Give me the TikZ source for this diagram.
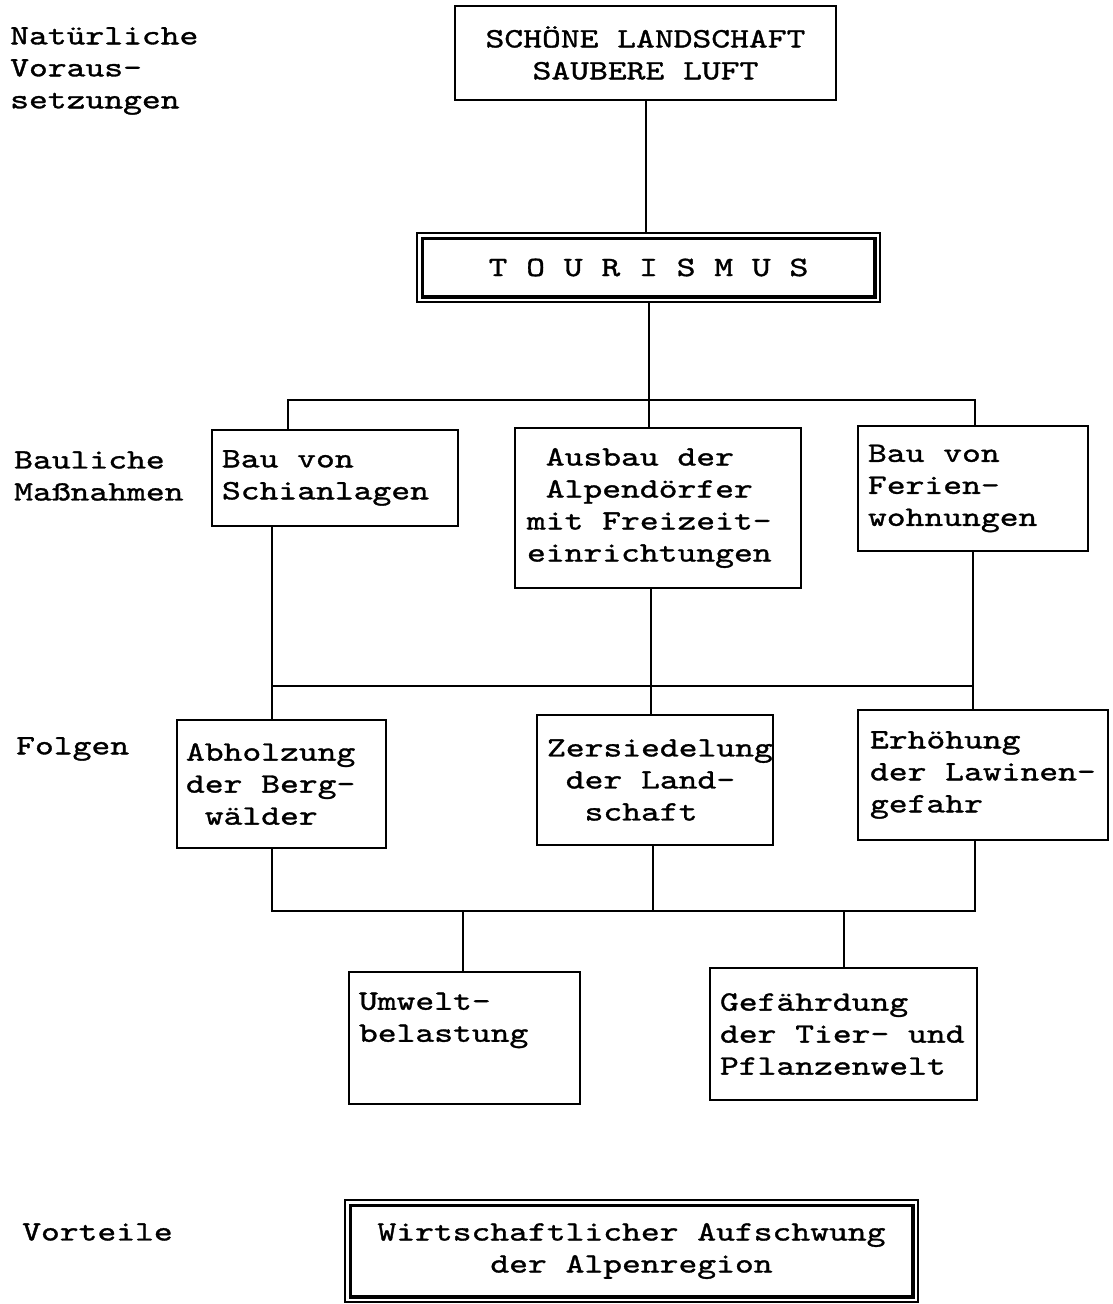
\documentclass[tikz,border=0pt]{standalone}
\usepackage{fontspec}
\setmonofont{lmmono10-regular.otf}[FakeStretch=1.28, FakeBold=1.2]
\usepackage{tikz}
\usetikzlibrary{positioning}
\newcommand{\sgap}{\hphantom{x}}
\newcommand{\diafont}{\ttfamily\fontsize{28}{32}\selectfont}

\begin{document}
\begin{tikzpicture}[
    x=1pt, y=-1pt,
    every node/.style={font=\diafont, execute at begin node={\spaceskip 18.8pt\relax}},
    box/.style={draw, line width=1.8pt, inner xsep=10pt, inner ysep=0pt, align=left},
    cbox/.style={box, align=center},
    dbox/.style={draw, line width=1.5pt, inner xsep=10pt, inner ysep=0pt, align=center},
    lab/.style={anchor=west, align=left, inner sep=0pt},
    conn/.style={draw, line width=2pt},
]
\useasboundingbox (0,0) rectangle (1113,1304);

% row labels
\node[lab] (lnat) at (10,71)   {Natürliche\\Voraus-\\setzungen};
\node[lab] (lbau) at (14,476)  {Bauliche\\Maßnahmen};
\node[lab] (lfol) at (16,749)  {Folgen};
\node[lab] (lvor) at (22,1232) {Vorteile};

% boxes
\node[cbox, text width=361pt, minimum height=94pt]  (nat)  at (645.5,53)   {SCHÖNE LANDSCHAFT\\SAUBERE LUFT};
\node[dbox, text width=443pt, minimum height=69pt]  (tour) at (648.5,267.5) {T O U R I S M U S};
\node[box, text width=226pt, minimum height=96pt]   (schi) at (335,478)     {Bau von\\Schianlagen};
\node[box, inner xsep=12pt, text width=262pt, minimum height=160pt] (ausb) at (658,508)
    {\sgap Ausbau der\\\sgap Alpendörfer\\mit Freizeit-\\einrichtungen};
\node[box, text width=210pt, minimum height=125pt]  (fer)  at (973,488.5)   {Bau von\\Ferien-\\wohnungen};
\node[box, inner xsep=9pt, text width=191pt, minimum height=128pt] (abh) at (281.5,784)
    {Abholzung\\der Berg-\\\sgap wälder};
\node[box, text width=216pt, minimum height=130pt]  (zer)  at (655,780)     {Zersiedelung\\\sgap der Land-\\\sgap\sgap schaft};
\node[box, inner xsep=12pt, text width=226pt, minimum height=130pt] (erh) at (983,775)
    {Erhöhung\\der Lawinen-\\gefahr};
\node[box, text width=211pt, minimum height=132pt]  (umw)  at (464.5,1038)  {Umwelt-\\belastung\\\strut};
\node[box, text width=247pt, minimum height=132pt]  (gef)  at (843.5,1034)  {Gefährdung\\der Tier- und\\Pflanzenwelt};
\node[dbox, text width=553pt, minimum height=102pt] (vor)  at (631.5,1251)  {Wirtschaftlicher Aufschwung\\der Alpenregion};

% inner frames of the double boxes
\draw[line width=3.5pt] ([xshift=6pt,yshift=-6pt]tour.north west) rectangle ([xshift=-6pt,yshift=6pt]tour.south east);
\draw[line width=3.5pt] ([xshift=6pt,yshift=-6pt]vor.north west) rectangle ([xshift=-6pt,yshift=6pt]vor.south east);

% junctions
\coordinate (b1l) at (288,400);
\coordinate (b1r) at (975,400);
\coordinate (b2l) at (272,686);
\coordinate (b2m) at (651,686);
\coordinate (b2r) at (973,686);
\coordinate (b3l) at (272,911);
\coordinate (b3m) at (653,911);
\coordinate (b3r) at (975,911);
\coordinate (b3u) at (463,911);
\coordinate (b3g) at (843.5,911);

\path[conn] (nat.south) -- (nat.south |- tour.north);
\path[conn] (tour.south) -- (tour.south |- ausb.north);
\path[conn] (b1l |- schi.north) -- (b1l) -- (b1r) -- (b1r |- fer.north);

\path[conn] (b2l |- schi.south) -- (b2l |- abh.north);
\path[conn] (b2r |- fer.south) -- (b2r |- erh.north);
\path[conn] (b2m |- ausb.south) -- (b2m |- zer.north);
\path[conn] (b2l) -- (b2r);

\path[conn] (b3l |- abh.south) -- (b3l) -- (b3r) -- (b3r |- erh.south);
\path[conn] (b3m |- zer.south) -- (b3m);
\path[conn] (b3u) -- (b3u |- umw.north);
\path[conn] (b3g) -- (b3g |- gef.north);
\end{tikzpicture}
\end{document}
